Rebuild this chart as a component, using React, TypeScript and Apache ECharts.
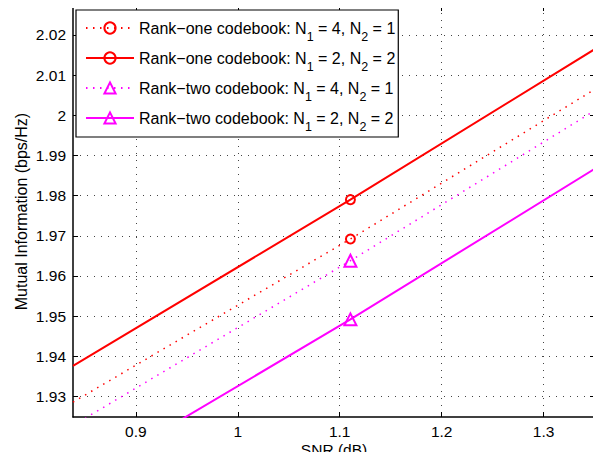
import React, { useEffect, useRef } from "react";
import * as echarts from "echarts";

const snr = [0.8384, 1.1105, 1.3504];
const rankOneN41 = [1.9286, 1.9692, 2.0065];
const rankOneN22 = [1.9376, 1.979, 2.0165];
const rankTwoN41 = [1.9228, 1.9638, 2.0012];
const rankTwoN22 = [1.9083, 1.9492, 1.9867];
const markerIndex = 1;

const xTicks = [0.9, 1, 1.1, 1.2, 1.3];
const yTicks = [1.93, 1.94, 1.95, 1.96, 1.97, 1.98, 1.99, 2, 2.01, 2.02];
const xMin = 0.8384;
const xMax = 1.3504;
const yMin = 1.9249;
const yMax = 2.0272;

const seriesNames = [
  "Rank−one codebook: N1 = 4, N2 = 1",
  "Rank−one codebook: N1 = 2, N2 = 2",
  "Rank−two codebook: N1 = 4, N2 = 1",
  "Rank−two codebook: N1 = 2, N2 = 2",
];
const legendRich = [
  "Rank−one codebook: N{s|1} = 4, N{s|2} = 1",
  "Rank−one codebook: N{s|1} = 2, N{s|2} = 2",
  "Rank−two codebook: N{s|1} = 4, N{s|2} = 1",
  "Rank−two codebook: N{s|1} = 2, N{s|2} = 2",
];
const seriesValues = [rankOneN41, rankOneN22, rankTwoN41, rankTwoN22];
const colors = ["#ff0000", "#ff0000", "#ff00ff", "#ff00ff"];
const symbols = ["circle", "circle", "triangle", "triangle"];
const dotted = [true, false, true, false];

const FONT = "Liberation Sans, Arial, Helvetica, sans-serif";

export default function App() {
  const ref = useRef<HTMLDivElement>(null);
  useEffect(() => {
    if (!ref.current) return;
    const chart = echarts.init(ref.current, undefined, { renderer: "svg" });
    const gridLine = { show: true, lineStyle: { color: "#444", width: 1, type: [1, 6] } };
    const axisLine = { show: true, lineStyle: { color: "#000", width: 1.5 } };
    const series = seriesValues.map((vals, i) => ({
      name: seriesNames[i],
      type: "line",
      color: colors[i],
      symbol: symbols[i],
      symbolSize: symbols[i] === "circle" ? 9 : 12,
      showSymbol: true,
      clip: true,
      data: vals.map((v, j) =>
        j === markerIndex ? { value: [snr[j], v] } : { value: [snr[j], v], symbol: "none" }
      ),
      lineStyle: dotted[i]
        ? { color: colors[i], width: 1.5, type: [1.5, 5.5] }
        : { color: colors[i], width: 2 },
      itemStyle: { color: "rgba(0,0,0,0)", borderColor: colors[i], borderWidth: 2 },
      emphasis: { disabled: true },
    }));
    chart.setOption({
      animation: false,
      backgroundColor: "#fff",
      textStyle: { fontFamily: FONT },
      grid: { left: 73, right: 6, top: 6, bottom: 43, outerBoundsMode: "none", containLabel: false },
      legend: {
        orient: "vertical",
        left: 76,
        top: 10,
        padding: [3, 3, 4, 9],
        itemWidth: 48,
        itemHeight: 14,
        itemGap: 0,
        backgroundColor: "#fff",
        borderColor: "#000",
        borderWidth: 1.2,
        data: seriesNames,
        formatter: (name: string) => legendRich[seriesNames.indexOf(name)],
        textStyle: {
          fontFamily: FONT,
          fontSize: 16,
          color: "#000",
          rich: {
            s: { fontSize: 12.5, fontFamily: FONT, color: "#000", verticalAlign: "middle", lineHeight: 12.5, padding: [17, 0, 0, 0] },
          },
        },
      },
      xAxis: [
        {
          type: "value",
          min: xMin,
          max: xMax,
          name: "SNR (dB)",
          nameLocation: "middle",
          nameGap: 24,
          nameMoveOverlap: false,
          nameTextStyle: { fontSize: 15.5, color: "#000", fontFamily: FONT },
          axisLine,
          axisTick: { show: true, inside: true, length: 5, customValues: xTicks, lineStyle: { color: "#000" } },
          axisLabel: { customValues: xTicks, fontSize: 15.5, color: "#000", margin: 6, fontFamily: FONT, formatter: (v: number) => String(Math.round(v * 10) / 10) },
          splitLine: gridLine,
        },
        {
          type: "value",
          position: "top",
          min: xMin,
          max: xMax,
          axisLine,
          axisTick: { show: true, inside: true, length: 5, customValues: xTicks, lineStyle: { color: "#000" } },
          axisLabel: { show: false },
          splitLine: { show: false },
        },
      ],
      yAxis: [
        {
          type: "value",
          min: yMin,
          max: yMax,
          name: "Mutual Information (bps/Hz)",
          nameLocation: "middle",
          nameGap: 43.5,
          nameMoveOverlap: false,
          nameTextStyle: { fontSize: 16, color: "#000", fontFamily: FONT },
          axisLine,
          axisTick: { show: true, inside: true, length: 5, customValues: yTicks, lineStyle: { color: "#000" } },
          axisLabel: { customValues: yTicks, fontSize: 15.5, color: "#000", margin: 7, fontFamily: FONT, formatter: (v: number) => String(Math.round(v * 100) / 100) },
          splitLine: gridLine,
        },
        {
          type: "value",
          position: "right",
          min: yMin,
          max: yMax,
          axisLine,
          axisTick: { show: true, inside: true, length: 5, customValues: yTicks, lineStyle: { color: "#000" } },
          axisLabel: { show: false },
          splitLine: { show: false },
        },
      ],
      series,
    });
    return () => chart.dispose();
  }, []);
  return <div ref={ref} style={{ width: 601, height: 460, margin: -8 }} />;
}
